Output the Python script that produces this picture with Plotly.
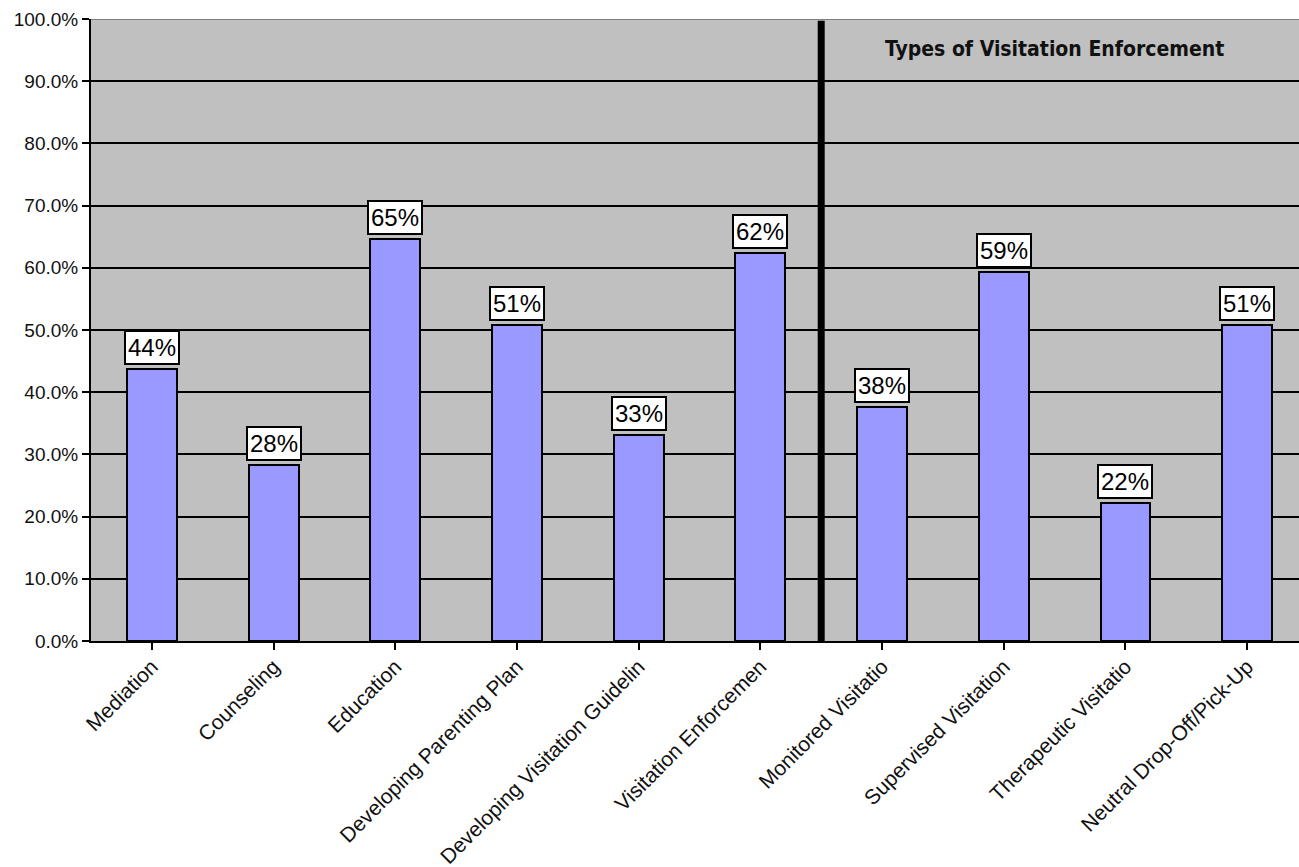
import plotly.graph_objects as go

categories = [
    "Mediation",
    "Counseling",
    "Education",
    "Developing Parenting Plan",
    "Developing Visitation Guidelin",
    "Visitation Enforcemen",
    "Monitored Visitatio",
    "Supervised Visitation",
    "Therapeutic Visitatio",
    "Neutral Drop-Off/Pick-Up",
]
shares = [0.437, 0.283, 0.646, 0.508, 0.332, 0.624, 0.377, 0.593, 0.222, 0.508]
y_ticks = [0.0, 0.1, 0.2, 0.3, 0.4, 0.5, 0.6, 0.7, 0.8, 0.9, 1.0]
section_title = "Types of Visitation Enforcement"

FONT = "Liberation Sans, Arial, sans-serif"
x_pos = list(range(len(categories)))

fig = go.Figure()
fig.add_trace(go.Bar(
    x=x_pos,
    y=shares,
    width=0.41,
    marker=dict(color="#9999FF", line=dict(color="black", width=2)),
    hoverinfo="skip",
))

# boxed percentage labels above each bar
for xi, v in zip(x_pos, shares):
    fig.add_annotation(
        x=xi, y=v, xref="x", yref="y",
        text=f"{v:.0%}", showarrow=False,
        yanchor="bottom", yshift=4,
        font=dict(family=FONT, size=24, color="black"),
        bgcolor="white", bordercolor="black", borderwidth=2, borderpad=2,
    )

# divider between general services and enforcement types
fig.add_shape(
    type="line", xref="x", yref="y",
    x0=5.5, x1=5.5, y0=0, y1=0.997,
    line=dict(color="black", width=7), layer="above",
)
# plot-area top border
fig.add_shape(
    type="line", xref="paper", yref="y",
    x0=0, x1=1, y0=1, y1=1,
    line=dict(color="#808080", width=2), layer="above",
)

fig.add_annotation(
    x=7.42, y=0.952, xref="x", yref="y",
    text=f"<b>{section_title}</b>", showarrow=False,
    font=dict(family="Liberation Sans Narrow, DejaVu Sans Condensed, Arial Narrow, sans-serif",
              size=21, color="#111111"),
)

fig.update_layout(
    width=1299, height=867,
    margin=dict(l=91, r=0, t=19, b=226),
    paper_bgcolor="white",
    plot_bgcolor="#C0C0C0",
    showlegend=False,
    bargap=0,
)
fig.update_xaxes(
    range=[-0.5, 9.426],
    automargin=False,
    tickmode="array", tickvals=x_pos, ticktext=categories,
    tickson="boundaries", ticks="outside", ticklen=7, tickwidth=2, tickcolor="black",
    tickangle=-45,
    ticklabelstandoff=-4,
    tickfont=dict(family=FONT, size=21, color="#111111"),
    showline=True, linecolor="black", linewidth=2,
    showgrid=False, zeroline=False,
)
fig.update_yaxes(
    range=[0, 1],
    automargin=False,
    tickmode="array", tickvals=y_ticks, tickformat=".1%",
    ticks="outside", ticklen=7, tickwidth=2, tickcolor="black",
    tickfont=dict(family=FONT, size=19, color="#111111"),
    showline=True, linecolor="black", linewidth=2,
    showgrid=True, gridcolor="black", gridwidth=2,
    zeroline=False,
)

fig.write_html("out.html")
